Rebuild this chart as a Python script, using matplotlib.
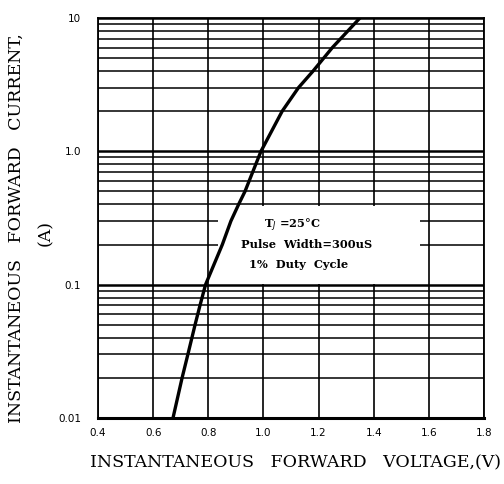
import numpy as np
import matplotlib
matplotlib.use("Agg")
import matplotlib.pyplot as plt
from matplotlib.patches import Rectangle

# forward voltage (V) vs forward current (A)
voltage = [0.672, 0.705, 0.726, 0.752, 0.770, 0.790, 0.851, 0.882, 0.910,
           0.933, 0.991, 1.068, 1.127, 1.18, 1.25, 1.35]
current = [0.01, 0.02, 0.03, 0.05, 0.07, 0.10, 0.2, 0.3, 0.4,
           0.5, 1.0, 2.0, 3.0, 4.0, 6.0, 10.0]

x_ticks = [0.4, 0.6, 0.8, 1.0, 1.2, 1.4, 1.6, 1.8]
x_labels = ["0.4", "0.6", "0.8", "1.0", "1.2", "1.4", "1.6", "1.8"]
y_ticks = [0.01, 0.1, 1.0, 10]
y_labels = ["0.01", "0.1", "1.0", "10"]

serif = ["DejaVu Serif"]

fig = plt.figure(figsize=(5.04, 4.84), dpi=100)
ax = fig.add_axes([98 / 504, 1 - 418 / 484, 386 / 504, 400 / 484])

ax.set_yscale("log")
ax.set_xlim(0.4, 1.8)
ax.set_ylim(0.01, 10)
ax.set_xticks(x_ticks)
ax.set_xticklabels(x_labels)
ax.set_yticks(y_ticks)
ax.set_yticklabels(y_labels)
ax.yaxis.set_minor_locator(matplotlib.ticker.LogLocator(base=10, subs=np.arange(2, 10)))
ax.yaxis.set_minor_formatter(matplotlib.ticker.NullFormatter())
ax.tick_params(which="both", length=0, labelsize=7.5, pad=7)
ax.tick_params(axis="y", pad=12)

ax.set_axisbelow(True)
ax.grid(True, which="major", axis="x", color="black", lw=1.2)
ax.grid(True, which="major", axis="y", color="black", lw=1.8)
ax.grid(True, which="minor", axis="y", color="black", lw=1.1)
for s in ax.spines.values():
    s.set_linewidth(1.3)
ax.spines["bottom"].set_linewidth(2.2)

# white area behind the note, covers the grid
ax.add_patch(Rectangle((0.31, 0.335), 0.525, 0.195, transform=ax.transAxes,
                       facecolor="white", edgecolor="none", zorder=1))

ax.plot(voltage, current, color="black", lw=2.4, zorder=3)

note = dict(transform=ax.transAxes, fontsize=8.2, family=serif,
            fontweight="bold", zorder=4)
ax.text(0.43, 0.475, "T$_J$ =25°C", **note)
ax.text(0.37, 0.425, "Pulse  Width=300uS", **note)
ax.text(0.39, 0.375, "1%  Duty  Cycle", **note)

fig.text(296 / 504, 1 - 463 / 484, "INSTANTANEOUS   FORWARD   VOLTAGE,(V)",
         ha="center", va="center", fontsize=12.5, family=serif)
fig.text(16 / 504, 1 - 228 / 484, "INSTANTANEOUS   FORWARD   CURRENT,",
         ha="center", va="center", rotation=90, fontsize=12.5, family=serif)
fig.text(46 / 504, 1 - 233 / 484, "(A)", ha="center", va="center",
         rotation=90, fontsize=12.5, family=serif)

fig.savefig("out.png", dpi=100)
